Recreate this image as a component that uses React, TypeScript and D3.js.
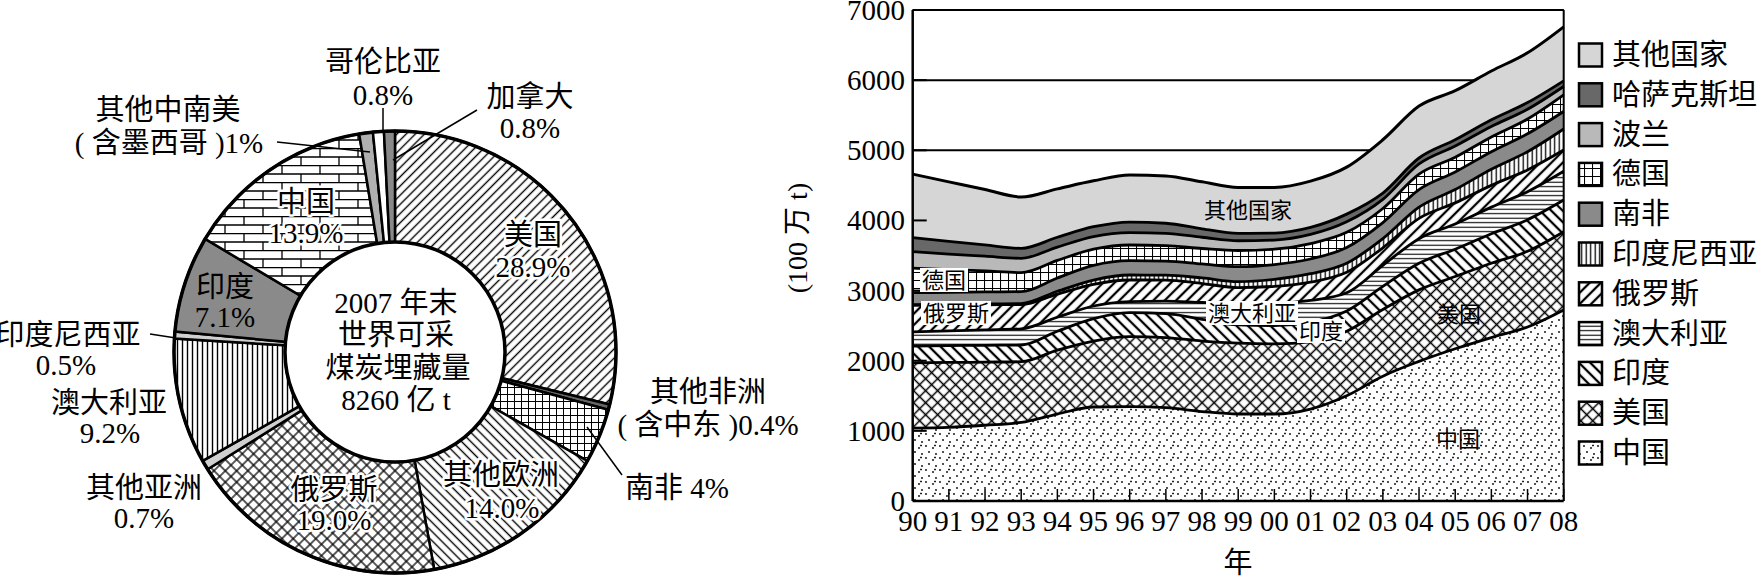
import React from 'react';
import * as d3 from 'd3';

// ---------- Data: stacked production (100万t) ----------
const YEARS = [1990, 1991, 1992, 1993, 1994, 1995, 1996, 1997, 1998, 1999, 2000, 2001, 2002, 2003, 2004, 2005, 2006, 2007, 2008];
const YEAR_LABELS = ['90', '91', '92', '93', '94', '95', '96', '97', '98', '99', '00', '01', '02', '03', '04', '05', '06', '07', '08'];
const SERIES_NAMES = ['中国', '美国', '印度', '澳大利亚', '俄罗斯', '印度尼西亚', '南非', '德国', '波兰', '哈萨克斯坦', '其他国家'];
const CN = [1040, 1050, 1080, 1120, 1240, 1340, 1345, 1330, 1275, 1240, 1240, 1310, 1500, 1780, 1990, 2170, 2330, 2480, 2723];
const US = [930, 925, 900, 866, 910, 940, 998, 1000, 1005, 1010, 1000, 960, 920, 950, 1020, 1030, 1060, 1080, 1116];
const IN = [240, 240, 240, 238, 270, 320, 342, 340, 310, 260, 260, 280, 290, 330, 380, 390, 420, 450, 452];
const AU = [200, 210, 220, 231, 200, 180, 157, 180, 240, 308, 320, 310, 258, 300, 350, 360, 380, 400, 410];
const RU = [380, 370, 358, 345, 330, 310, 309, 300, 270, 225, 240, 260, 292, 250, 290, 300, 310, 310, 303];
const ID = [10, 11, 12, 15, 40, 60, 71, 70, 80, 85, 100, 120, 130, 130, 160, 190, 230, 260, 300];
const ZA = [170, 169, 170, 169, 190, 210, 204, 200, 200, 212, 210, 210, 225, 230, 250, 250, 250, 255, 250];
const DE = [350, 325, 300, 272, 250, 230, 224, 220, 220, 231, 220, 220, 215, 200, 220, 210, 210, 210, 236];
const PL = [235, 220, 210, 204, 190, 180, 175, 175, 160, 139, 130, 130, 150, 130, 145, 160, 150, 140, 120];
const KZ = [200, 180, 160, 142, 140, 140, 152, 145, 120, 106, 100, 100, 110, 90, 85, 90, 95, 95, 80];
const OT = [905, 850, 790, 732, 690, 655, 671, 675, 670, 654, 650, 660, 670, 760, 740, 700, 695, 710, 770];
const Y_TICKS = [0, 1000, 2000, 3000, 4000, 5000, 6000, 7000];

// ---------- Data: pie (2007年末世界可采煤炭埋藏量) ----------
const PIE_LABELS = ['美国', '其他非洲', '南非', '其他欧洲', '俄罗斯', '其他亚洲', '澳大利亚', '印度尼西亚', '印度', '中国', '其他中南美', '哥伦比亚', '加拿大'];
const PIE_VALUES = [28.9, 0.4, 4, 14.0, 19.0, 0.7, 9.2, 0.5, 7.1, 13.9, 1, 0.8, 0.8];

// ---------- Styles ----------
const FONT = '"Liberation Serif", "Noto Sans CJK SC", serif';
const AREA_FILL: Record<string, string> = {
  '中国': 'url(#aDots)', '美国': 'url(#aCross)', '印度': 'url(#aBack)', '澳大利亚': 'url(#aHoriz)',
  '俄罗斯': 'url(#aFwd)', '印度尼西亚': 'url(#aVert)', '南非': '#8a8a8a', '德国': 'url(#aGrid)',
  '波兰': '#b9b9b9', '哈萨克斯坦': '#686868', '其他国家': '#d6d6d6',
};
const PIE_FILL: Record<string, string> = {
  '美国': 'url(#pFwd)', '其他非洲': '#666', '南非': 'url(#pGrid)', '其他欧洲': 'url(#pBack)',
  '俄罗斯': 'url(#pCross)', '其他亚洲': '#d0d0d0', '澳大利亚': 'url(#pVert)', '印度尼西亚': '#d0d0d0',
  '印度': '#8a8a8a', '中国': 'url(#pBrick)', '其他中南美': '#b0b0b0', '哥伦比亚': '#fff', '加拿大': '#8a8a8a',
};

function hatch(id: string, size: number, sw: number, rot: number, both = false) {
  return (
    <pattern id={id} width={size} height={size} patternUnits="userSpaceOnUse" patternTransform={`rotate(${rot})`}>
      <rect width={size} height={size} fill="#fff" />
      <line x1={size / 2} y1={0} x2={size / 2} y2={size} stroke="#000" strokeWidth={sw} />
      {both && <line x1={0} y1={size / 2} x2={size} y2={size / 2} stroke="#000" strokeWidth={sw} />}
    </pattern>
  );
}

export default function App() {
  const W = 1762, H = 577;
  const x = d3.scaleLinear().domain([1990, 2008]).range([912.7, 1563.7]);
  const y = d3.scaleLinear().domain([0, 7000]).range([501, 10]);

  const cols = [CN, US, IN, AU, RU, ID, ZA, DE, PL, KZ, OT];
  const table = YEARS.map((yr, i) => {
    const row: any = { year: yr };
    SERIES_NAMES.forEach((n, k) => { row[n] = cols[k][i]; });
    return row;
  });
  const layers = d3.stack<any>().keys(SERIES_NAMES)(table);
  const area = d3.area<any>().x((d) => x(d.data.year)).y0((d) => y(d[0])).y1((d) => y(d[1])).curve(d3.curveMonotoneX);
  const topLine = d3.line<any>().x((d) => x(d.data.year)).y((d) => y(d[1])).curve(d3.curveMonotoneX);

  // pie
  const cx = 395, cy = 352, rOut = 221, rIn = 110;
  const pie = d3.pie<number>().sort(null).startAngle(0).endAngle(2 * Math.PI);
  const arcs = pie(PIE_VALUES);
  const arcGen = d3.arc<any>().innerRadius(rIn).outerRadius(rOut);

  const legendItems = [...SERIES_NAMES].reverse();
  const halo = { stroke: '#fff', strokeWidth: 5, paintOrder: 'stroke' as const, strokeLinejoin: 'round' as const };

  const pieText = (t: string, px: number, py: number, withHalo = false) => (
    <text x={px} y={py} textAnchor="middle" dominantBaseline="central" fontSize={29} style={withHalo ? halo : undefined}>{t}</text>
  );
  const boxLabel = (t: string, px: number, py: number, bg: boolean) => (
    <g>
      {bg && <rect x={px - (t.length * 22) / 2 - 2} y={py - 12} width={t.length * 22 + 4} height={24} fill="#fff" />}
      <text x={px} y={py} textAnchor="middle" dominantBaseline="central" fontSize={22}>{t}</text>
    </g>
  );

  return (
    <div style={{ position: 'absolute', left: 0, top: 0 }}>
      <svg width={W} height={H} style={{ display: 'block', fontFamily: FONT }}>
        <defs>
          {hatch('pFwd', 6.5, 1.4, 45)}
          {hatch('pBack', 6.5, 1.4, -45)}
          {hatch('pCross', 8, 1.3, 45, true)}
          <pattern id="pGrid" width={7} height={7} patternUnits="userSpaceOnUse">
            <rect width={7} height={7} fill="#fff" />
            <path d="M0,0.5H7M0.5,0V7" stroke="#000" strokeWidth={1} />
          </pattern>
          <pattern id="pVert" width={5} height={5} patternUnits="userSpaceOnUse">
            <rect width={5} height={5} fill="#fff" />
            <line x1={2.5} y1={0} x2={2.5} y2={5} stroke="#000" strokeWidth={1.4} />
          </pattern>
          <pattern id="pBrick" width={38} height={17} patternUnits="userSpaceOnUse">
            <rect width={38} height={17} fill="#fff" />
            <path d="M0,0.5H38M0,9H38M1,0V9M20,9V17" stroke="#000" strokeWidth={1.3} />
          </pattern>
          {hatch('aFwd', 8, 2.3, 45)}
          {hatch('aBack', 8, 2.3, -45)}
          {hatch('aCross', 8.5, 1.5, 45, true)}
          <pattern id="aHoriz" width={5} height={4.5} patternUnits="userSpaceOnUse">
            <rect width={5} height={4.5} fill="#fff" />
            <line x1={0} y1={2.2} x2={5} y2={2.2} stroke="#000" strokeWidth={1.1} />
          </pattern>
          <pattern id="aVert" width={4.5} height={5} patternUnits="userSpaceOnUse">
            <rect width={4.5} height={5} fill="#fff" />
            <line x1={2.2} y1={0} x2={2.2} y2={5} stroke="#000" strokeWidth={1.3} />
          </pattern>
          <pattern id="aGrid" width={8} height={8} patternUnits="userSpaceOnUse">
            <rect width={8} height={8} fill="#fff" />
            <path d="M0,0.5H8M0.5,0V8" stroke="#000" strokeWidth={1.1} />
          </pattern>
          <pattern id="aDots" width={14} height={12} patternUnits="userSpaceOnUse">
            <rect width={14} height={12} fill="#fff" />
            <circle cx={2} cy={2} r={0.9} fill="#000" />
            <circle cx={9} cy={4} r={0.9} fill="#000" />
            <circle cx={5} cy={8} r={0.9} fill="#000" />
            <circle cx={12} cy={10} r={0.9} fill="#000" />
            <path d="M11,0.5V2.5M10,1.5H12" stroke="#000" strokeWidth={0.8} />
          </pattern>
        </defs>

        {/* ---------------- Pie (donut) ---------------- */}
        <g transform={`translate(${cx},${cy})`}>
          {arcs.map((a, i) => (
            <path key={i} d={arcGen(a) || ''} fill={PIE_FILL[PIE_LABELS[i]]} stroke="#000" strokeWidth={2.5} />
          ))}
          <circle r={rOut} fill="none" stroke="#000" strokeWidth={3.5} />
          <circle r={rIn} fill="#fff" stroke="#000" strokeWidth={3.5} />
        </g>
        <g fill="#000">
          {pieText('2007 年末', 396, 303)}
          {pieText('世界可采', 396, 335)}
          {pieText('煤炭埋藏量', 398, 368)}
          {pieText('8260 亿 t', 396, 400)}

          {pieText('哥伦比亚', 383, 62)}
          {pieText('0.8%', 383, 95)}
          {pieText('加拿大', 530, 97)}
          {pieText('0.8%', 530, 128)}
          {pieText('其他中南美', 168, 110)}
          {pieText('( 含墨西哥 )1%', 169, 143)}
          {pieText('中国', 306, 202, true)}
          {pieText('13.9%', 306, 233, true)}
          {pieText('美国', 533, 235, true)}
          {pieText('28.9%', 533, 267, true)}
          {pieText('印度', 225, 287)}
          {pieText('7.1%', 225, 317)}
          {pieText('印度尼西亚', 68, 335)}
          {pieText('0.5%', 66, 365)}
          {pieText('澳大利亚', 109, 403)}
          {pieText('9.2%', 110, 433)}
          {pieText('其他亚洲', 144, 488)}
          {pieText('0.7%', 144, 518)}
          {pieText('俄罗斯', 334, 490, true)}
          {pieText('19.0%', 334, 520, true)}
          {pieText('其他欧洲', 501, 475, true)}
          {pieText('14.0%', 502, 508, true)}
          {pieText('其他非洲', 708, 392)}
          {pieText('( 含中东 )0.4%', 708, 425)}
          {pieText('南非 4%', 677, 488)}
        </g>
        <g stroke="#000" strokeWidth={1.5}>
          <line x1={383} y1={108} x2={383} y2={132} />
          <line x1={477} y1={110} x2={393} y2={160} />
          <line x1={277} y1={142} x2={370} y2={152} />
          <line x1={150} y1={334} x2={176} y2={338} />
          <line x1={587} y1={427} x2={622} y2={475} />
        </g>

        {/* ---------------- Stacked area ---------------- */}
        <g>
          {Y_TICKS.slice(1).map((t) => (
            <line key={t} x1={x(1990)} x2={x(2008)} y1={y(t)} y2={y(t)} stroke="#000" strokeWidth={2} />
          ))}
          {layers.map((l) => (
            <path key={l.key} d={area(l) || ''} fill={AREA_FILL[l.key]} />
          ))}
          {layers.map((l) => (
            <path key={'t' + l.key} d={topLine(l) || ''} fill="none" stroke="#000" strokeWidth={l.key === '其他国家' ? 3 : 2.8} />
          ))}
          {/* frame */}
          <line x1={x(1990)} x2={x(2008)} y1={y(7000)} y2={y(7000)} stroke="#000" strokeWidth={2} />
          <line x1={x(2008)} x2={x(2008)} y1={y(7000)} y2={y(0)} stroke="#000" strokeWidth={2} />
          <line x1={x(1990)} x2={x(1990)} y1={y(7000)} y2={y(0)} stroke="#000" strokeWidth={2.5} />
          <line x1={x(1990)} x2={x(2008)} y1={y(0)} y2={y(0)} stroke="#000" strokeWidth={2.5} />
          {Y_TICKS.map((t) => (
            <line key={'yt' + t} x1={x(1990)} x2={x(1990) + 14} y1={y(t)} y2={y(t)} stroke="#000" strokeWidth={2} />
          ))}
          {YEARS.map((yr) => (
            <line key={'xt' + yr} x1={x(yr)} x2={x(yr)} y1={y(0)} y2={y(0) - 12} stroke="#000" strokeWidth={1.5} />
          ))}
          {Y_TICKS.map((t) => (
            <text key={'yl' + t} x={905} y={y(t)} textAnchor="end" dominantBaseline="central" fontSize={29}>{t}</text>
          ))}
          {YEARS.map((yr, i) => (
            <text key={'xl' + yr} x={x(yr)} y={521} textAnchor="middle" dominantBaseline="central" fontSize={29}>{YEAR_LABELS[i]}</text>
          ))}
          <text x={1238} y={563} textAnchor="middle" dominantBaseline="central" fontSize={29}>年</text>
          <text transform="translate(797,238) rotate(-90)" textAnchor="middle" dominantBaseline="central" fontSize={28}>(100 万 t)</text>

          {boxLabel('其他国家', 1248, 210, false)}
          {boxLabel('德国', 944, 280, true)}
          {boxLabel('俄罗斯', 956, 313, true)}
          {boxLabel('澳大利亚', 1252, 313, true)}
          {boxLabel('印度', 1321, 331, true)}
          {boxLabel('美国', 1459, 314, false)}
          {boxLabel('中国', 1458, 439, false)}
        </g>

        {/* ---------------- Legend ---------------- */}
        <g>
          {legendItems.map((n, i) => {
            const cyL = 55 + i * 39.8;
            return (
              <g key={n}>
                <rect x={1579} y={cyL - 11.5} width={23} height={23} fill={AREA_FILL[n]} stroke="#000" strokeWidth={2.5} />
                <text x={1612} y={cyL} dominantBaseline="central" fontSize={29}>{n}</text>
              </g>
            );
          })}
        </g>
      </svg>
    </div>
  );
}
